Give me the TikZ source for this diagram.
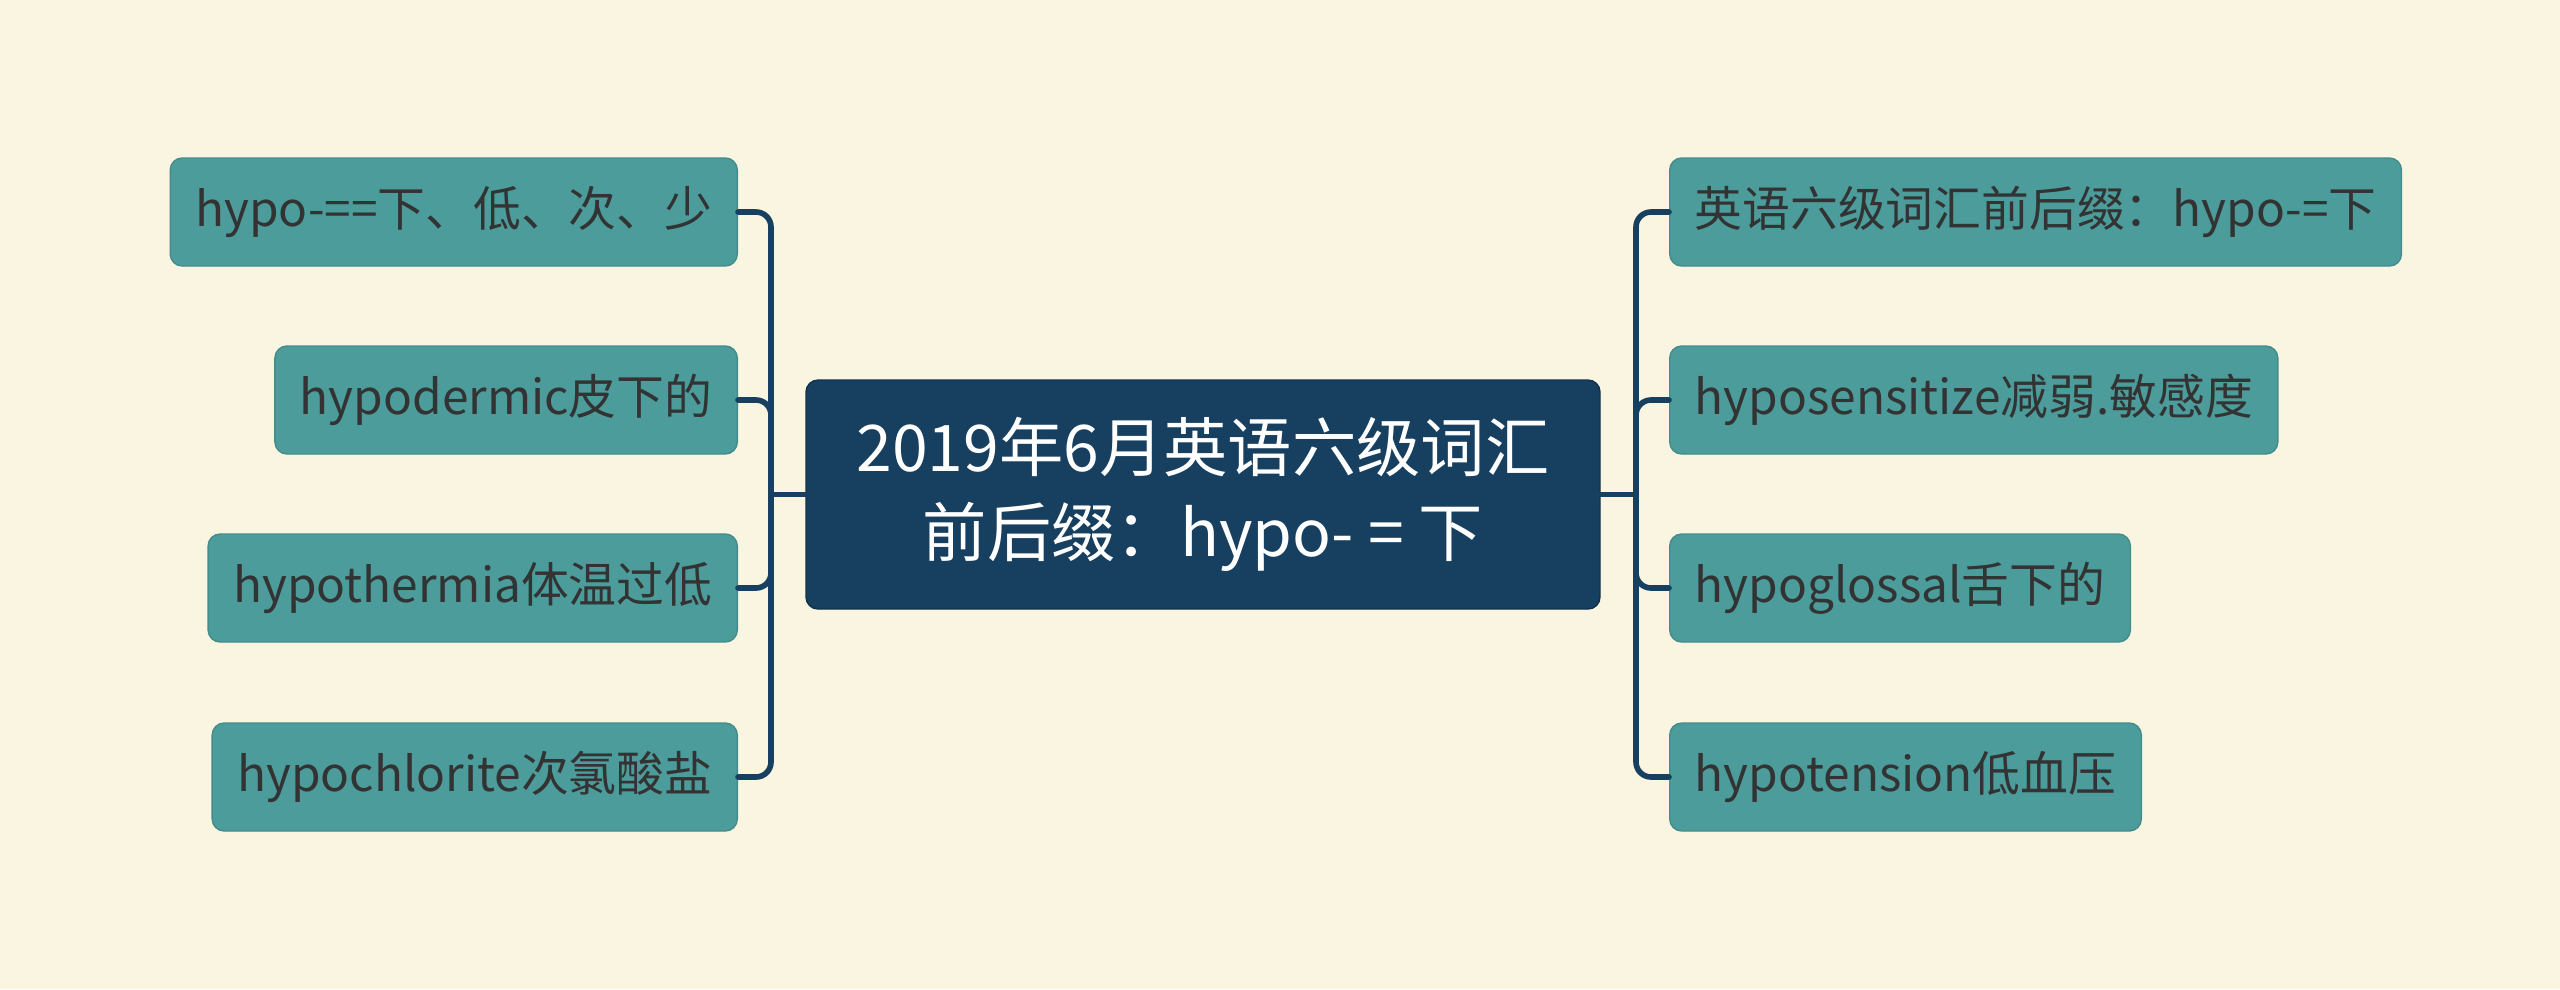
\documentclass[tikz,border=0pt]{standalone}
\usepackage{fontspec}
\setmainfont{Noto Sans CJK SC}
\definecolor{bgcream}{HTML}{FAF5E1}
\definecolor{rootblue}{HTML}{173F5F}
\definecolor{leafteal}{HTML}{4C9C9C}
\definecolor{leaftext}{HTML}{333333}
\begin{document}
\begin{tikzpicture}[line join=round, line cap=round,
	root/.style={fill=rootblue, draw=rootblue!80!black, rounded corners=0.12cm, text=white,
		minimum width=7.94cm, minimum height=2.29cm, align=center, font=\fontsize{18.3pt}{24pt}\selectfont},
	leaf/.style={fill=leafteal, draw=leafteal!90!black, rounded corners=0.12cm, text=leaftext,
		minimum height=1.08cm, inner xsep=0.25cm, font=\fontsize{13.6pt}{16pt}\selectfont},
	link/.style={draw=rootblue, line width=1.6pt, rounded corners=0.15cm}]
	\def\xl{7.71} \def\xr{16.36} % trunks
	\def\ya{-2.12} \def\yb{-4.00} \def\yc{-5.88} \def\yd{-7.77}
	\fill[bgcream] (0,0) rectangle (25.6,-9.89);
	\useasboundingbox (0,0) rectangle (25.6,-9.89);
	\node[root] (root) at (12.03,-4.945) {2019年6月英语六级词汇\\前后缀：hypo- = 下};
	% left side
	\node[leaf, anchor=east] (l1) at (7.38,\ya) {hypo-==下、低、次、少};
	\node[leaf, anchor=east] (l2) at (7.38,\yb) {hypodermic皮下的};
	\node[leaf, anchor=east] (l3) at (7.38,\yc) {hypothermia体温过低};
	\node[leaf, anchor=east] (l4) at (7.38,\yd) {hypochlorite次氯酸盐};
	% right side
	\node[leaf, anchor=west] (r1) at (16.69,\ya) {英语六级词汇前后缀：hypo-=下};
	\node[leaf, anchor=west] (r2) at (16.69,\yb) {hyposensitize减弱.敏感度};
	\node[leaf, anchor=west] (r3) at (16.69,\yc) {hypoglossal舌下的};
	\node[leaf, anchor=west] (r4) at (16.69,\yd) {hypotension低血压};
	\coordinate (jl) at (\xl,-4.945);
	\coordinate (jr) at (\xr,-4.945);
	\draw[link] (root.west) -- (jl);
	\draw[link] (root.east) -- (jr);
	\foreach \n in {l1,l2,l3,l4} \draw[link] (jl) |- (\n.east);
	\foreach \n in {r1,r2,r3,r4} \draw[link] (jr) |- (\n.west);
\end{tikzpicture}
\end{document}
